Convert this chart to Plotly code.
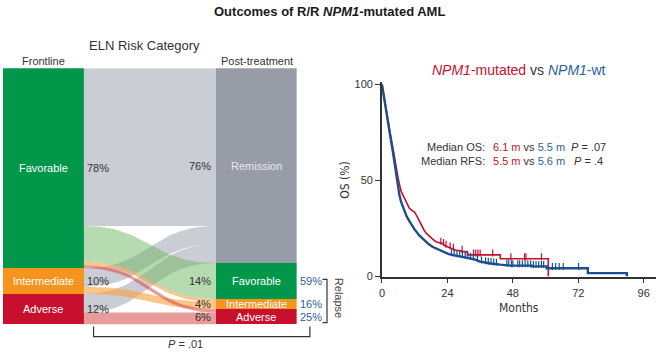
import numpy as np
import plotly.graph_objects as go

W, H = 656, 354

# ---------------- Sankey data (percent of patients) ----------------
front_labels = ["Favorable", "Intermediate", "Adverse"]
front_pct = [78, 10, 12]
post_labels = ["Remission", "Favorable", "Intermediate", "Adverse"]
post_pct = [76, 14, 4, 6]
relapse_share = ["59%", "16%", "25%"]
# flows from each frontline category to the post-treatment categories (Rem, Fav, Int, Adv)
flow_fav = [61.5, 14.0, 1.2, 1.3]
flow_int = [7.2, 0.0, 2.8, 0.0]
flow_adv = [7.3, 0.0, 0.0, 4.7]
flows = [flow_fav, flow_int, flow_adv]

# ---------------- Kaplan-Meier data (months, OS %) : vertices ----------------
mut_t = [0, 1, 2, 3, 4, 5, 6.1, 7, 8, 8.8, 10, 11, 12, 13, 13.7, 14.5, 15.5, 16.3, 17.3,
         18.2, 19.1, 20, 22.2, 23, 24, 25.5, 27, 30, 31.3, 31.3, 43.4, 43.4, 61, 61]
mut_s = [100, 91, 83, 75, 67, 58.5, 50, 44.5, 41.5, 39, 35.7, 34.5, 33.5, 31, 29, 26.5, 24,
         22.5, 21.4, 20, 18.9, 18, 17.2, 16.2, 15.5, 14.6, 13.8, 13, 13, 11.3, 11.3, 9.3, 9.3, 0]
wt_t = [0, 1, 2, 3, 4, 5, 5.5, 6.4, 7, 8.2, 9, 10, 11, 11.9, 13.7, 15, 16.1, 17.2, 18.5, 20,
        22.2, 24.5, 25.8, 28, 30.7, 32.5, 34, 36, 38, 40, 43.4, 47, 47, 55, 55, 60.4, 60.4,
        75.5, 75.5, 89.8, 89.8]
wt_s = [100, 90.5, 82, 73.5, 65, 55, 50, 42.4, 39, 34, 31.5, 29, 26.5, 24.7, 21.4, 19.5, 18,
        16.8, 15.5, 14.5, 13, 11.7, 11.3, 10.7, 10.1, 9.6, 9, 7.8, 7.2, 6.8, 6.2, 6.0, 5.7,
        5.7, 5.3, 5.3, 4.3, 4.3, 1.8, 1.8, 0]
mut_cens = [21.6, 22.6, 23.5, 25.0, 26.2, 29.4, 33.6, 34.4, 35.2, 36.0, 40.6, 47.3, 52.3,
            52.8, 58.5]
wt_cens = [25.5, 26.5, 27.5, 28.5, 29.5, 30.5, 31.5, 32.5, 33.5, 35, 36.5, 38, 39, 40, 41,
           42, 45.8, 46.5, 47.5, 48, 49.8, 50.5, 51.5, 52.5, 53.5, 54.5, 55.5, 56.5, 57.5,
           58.5, 59.3, 62.5, 63.7, 65, 66.5, 72.1]

# ---------------- styles ----------------
FONT = "Liberation Sans, Arial, sans-serif"
COND = "Liberation Sans Narrow, DejaVu Sans Condensed, Arial Narrow, sans-serif"
TXT = "#333333"
RED = "#c8102e"
BLUE = "#1a4f8f"
BLUE_T = "#2b5f9e"
front_colors = ["#00974a", "#f7941d", "#c8102e"]
post_colors = ["#979ca6", "#00974a", "#f7941d", "#c8102e"]
link_colors = ["rgba(170,174,184,0.62)", "rgba(112,184,98,0.5)",
               "rgba(249,160,60,0.6)", "rgba(214,72,72,0.55)"]

NODE_W = 81.0
XL = NODE_W / 2            # left node centre
X0 = NODE_W                # link start
X1 = 214.0                 # link end
XR = X1 + NODE_W / 2       # right node centre


def px(x):
    return x / W


def py(y):
    return 1 - y / H


fig = go.Figure()

# ---------- links ----------
front_base = np.concatenate([[0], np.cumsum(front_pct)[:-1]]).astype(float)
post_base = np.concatenate([[0], np.cumsum(post_pct)[:-1]]).astype(float)
links = [(s, t, flows[s][t]) for s in range(3) for t in range(4) if flows[s][t] > 0]
src_pos, tgt_pos = {}, {}
for s in range(3):
    off = front_base[s]
    for t in range(4):
        if flows[s][t] > 0:
            src_pos[(s, t)] = off
            off += flows[s][t]
for t in range(4):
    off = post_base[t]
    for s in range(3):
        if flows[s][t] > 0:
            tgt_pos[(s, t)] = off
            off += flows[s][t]

tt = np.linspace(0, 1, 60)
xm = (X0 + X1) / 2


def bez(ya, yb):
    bx = (1 - tt) ** 3 * X0 + 3 * (1 - tt) ** 2 * tt * xm + 3 * (1 - tt) * tt ** 2 * xm + tt ** 3 * X1
    by = (1 - tt) ** 3 * ya + 3 * (1 - tt) ** 2 * tt * ya + 3 * (1 - tt) * tt ** 2 * yb + tt ** 3 * yb
    return bx, by


for t_draw in range(4):
    for (s, t, v) in links:
        if t != t_draw:
            continue
        ya, yb = src_pos[(s, t)], tgt_pos[(s, t)]
        tx, ty = bez(ya, yb)
        bx_, by_ = bez(ya + v, yb + v)
        fig.add_trace(go.Scatter(x=np.concatenate([tx, bx_[::-1]]),
                                 y=np.concatenate([ty, by_[::-1]]),
                                 fill="toself", mode="lines", line=dict(width=0),
                                 fillcolor=link_colors[t], hoverinfo="skip",
                                 showlegend=False, xaxis="x", yaxis="y"))

# ---------- nodes ----------
for i in range(3):
    fig.add_trace(go.Bar(x=[XL], y=[front_pct[i]], base=[front_base[i]], width=NODE_W,
                         marker=dict(color=front_colors[i], line=dict(width=0)),
                         showlegend=False, hoverinfo="skip", xaxis="x", yaxis="y"))
for i in range(4):
    fig.add_trace(go.Bar(x=[XR], y=[post_pct[i]], base=[post_base[i]], width=NODE_W,
                         marker=dict(color=post_colors[i], line=dict(width=0)),
                         showlegend=False, hoverinfo="skip", xaxis="x", yaxis="y"))

# ---------- KM curves ----------
fig.add_trace(go.Scatter(x=mut_t, y=mut_s, mode="lines", line=dict(color=RED, width=1.6),
                         showlegend=False, xaxis="x2", yaxis="y2", hoverinfo="skip"))
fig.add_trace(go.Scatter(x=wt_t, y=wt_s, mode="lines", line=dict(color=BLUE, width=2.4),
                         showlegend=False, xaxis="x2", yaxis="y2", hoverinfo="skip"))
fig.add_trace(go.Scatter(x=mut_cens, y=np.interp(mut_cens, mut_t, mut_s) + 1.0,
                         mode="markers",
                         marker=dict(symbol="line-ns", size=5, line=dict(width=1.2, color=RED)),
                         showlegend=False, xaxis="x2", yaxis="y2", hoverinfo="skip"))
fig.add_trace(go.Scatter(x=wt_cens, y=np.interp(wt_cens, wt_t, wt_s) + 1.0,
                         mode="markers",
                         marker=dict(symbol="line-ns", size=5, line=dict(width=1.2, color=BLUE)),
                         showlegend=False, xaxis="x2", yaxis="y2", hoverinfo="skip"))

# ---------- annotations ----------
ann = []


def A(text, x, y, size=11, color=TXT, xanchor="center", yanchor="middle", xref="paper",
      yref="paper", family=FONT, angle=0):
    ann.append(dict(text=text, x=x, y=y, xref=xref, yref=yref, showarrow=False,
                    xanchor=xanchor, yanchor=yanchor, textangle=angle,
                    font=dict(size=size, color=color, family=family)))


A("<b>Outcomes of R/R <i>NPM1</i>-mutated AML</b>", px(328), py(8.5), size=13, color="#1a1a1a")
A("ELN Risk Category", px(142), py(43.5), size=13)
A("Frontline", px(40.5), py(60), size=11)
A("Post-treatment", px(255), py(60), size=11)

for i in range(3):
    c = front_base[i] + front_pct[i] / 2
    A(front_labels[i], XL, c, size=11, color="white", xref="x", yref="y")
    A(f"{front_pct[i]}%", X0 + 1.5, c, size=11, xanchor="left", xref="x", yref="y")
for i in range(4):
    c = post_base[i] + post_pct[i] / 2
    A(post_labels[i], XR, c, size=11, color="white" if i != 0 else "#e8e9ec", xref="x", yref="y")
    A(f"{post_pct[i]}%", X1 - 3, c, size=11, xanchor="right", xref="x", yref="y")
    if i >= 1:
        A(relapse_share[i - 1], px(309), c, size=11, color=BLUE_T, xref="paper", yref="y")

A("Relapse", px(337), py(303), size=11, color="#444", angle=90)
A("<i>P</i> = .01", px(183), py(349.5), size=11)

A(f'<i>NPM1</i>-mutated<span style="color:{TXT}"> vs </span><span style="color:{BLUE_T}"><i>NPM1</i>-wt</span>',
  px(518), py(68.5), size=14, color=RED)
A("Median OS:", px(486), py(147.5), size=11, xanchor="right")
A("Median RFS:", px(486), py(162.5), size=11, xanchor="right")
A(f'<span style="color:{RED}">6.1 m</span> vs <span style="color:{BLUE_T}">5.5 m</span>',
  px(490), py(147.5), size=11, xanchor="left")
A(f'<span style="color:{RED}">5.5 m</span> vs <span style="color:{BLUE_T}">5.6 m</span>',
  px(490), py(162.5), size=11, xanchor="left")
A("<i>P</i> = .07", px(569), py(147.5), size=11, xanchor="left")
A("<i>P</i> = .4", px(571.5), py(162.5), size=11, xanchor="left")
A("OS (%)", px(344), py(182), size=12, family=COND, angle=-90)
A("Months", px(518), py(313), size=12, family=COND)

# ---------- bracket shapes ----------
shapes = [
    dict(type="path", xref="paper", yref="paper", line=dict(color="#333", width=1.2),
         path=f"M {px(321)},{py(283.5)} L {px(325.5)},{py(283.5)} L {px(325.5)},{py(328)} L {px(321)},{py(328)}"),
    dict(type="path", xref="paper", yref="paper", line=dict(color="#333", width=1.2),
         path=f"M {px(91)},{py(332)} L {px(91)},{py(342.3)} L {px(308.3)},{py(342.3)} L {px(308.3)},{py(332)}"),
]

fig.update_layout(
    width=W, height=H, margin=dict(l=0, r=0, t=0, b=0),
    paper_bgcolor="white", plot_bgcolor="white",
    barmode="overlay", bargap=0,
    font=dict(family=FONT, color=TXT, size=11),
    annotations=ann, shapes=shapes, showlegend=False,
    xaxis=dict(domain=[0, 295 / W], range=[0, 295], visible=False, fixedrange=True),
    yaxis=dict(domain=[py(330), py(67)], range=[100, 0], visible=False, fixedrange=True),
    xaxis2=dict(domain=[px(380.7), 1.0], range=[0, 100.5], anchor="y2",
                tickvals=[0, 24, 48, 72, 96], ticks="outside", ticklen=5, tickwidth=1.4,
                tickcolor="#333", showline=True, linecolor="#333", linewidth=1.6,
                showgrid=False, zeroline=False, tickfont=dict(size=11, color=TXT)),
    yaxis2=dict(domain=[py(280.7), py(80.7)], range=[0, 101.5], anchor="x2",
                tickvals=[0, 50, 100], ticks="outside", ticklen=5, tickwidth=1.4,
                tickcolor="#333", showline=True, linecolor="#333", linewidth=1.6,
                showgrid=False, zeroline=False, tickfont=dict(size=11, color=TXT)),
)

fig.write_html("out.html", config={"displayModeBar": False},
               post_script="document.body.style.margin='0';document.body.style.overflow='hidden';")
